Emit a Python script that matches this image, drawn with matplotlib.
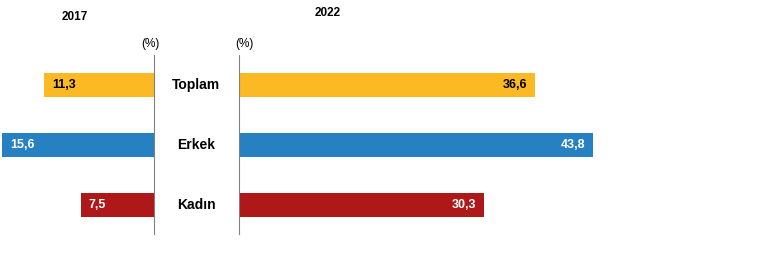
import matplotlib
matplotlib.use("Agg")
import matplotlib.pyplot as plt
from matplotlib.transforms import blended_transform_factory

# data
categories = ["Toplam", "Erkek", "Kadın"]
values_2017 = [11.3, 15.6, 7.5]
values_2022 = [36.6, 43.8, 30.3]
bar_colors = ["#FBBA24", "#2680C2", "#AE1818"]
label_colors = ["black", "white", "white"]

plt.rcParams['font.family'] = ['Liberation Sans', 'DejaVu Sans']

W, H = 762, 270
fig = plt.figure(figsize=(W / 100, H / 100), dpi=100)

# axes placed in pixel units (top-left origin)
def px_axes(x0, x1, y0, y1):
    return fig.add_axes([x0 / W, 1 - y1 / H, (x1 - x0) / W, (y1 - y0) / H])

ax_l = px_axes(0, 154, 55, 234)
ax_r = px_axes(239, 762, 55, 234)

pos = range(len(categories))
ax_l.barh(pos, values_2017, height=0.4, color=bar_colors)
ax_r.barh(pos, values_2022, height=0.4, color=bar_colors)

ax_l.set_xlim(154 / 9.74, 0)
ax_r.set_xlim(0, 523 / 8.09)
for ax in (ax_l, ax_r):
    ax.set_ylim(2.483, -0.5)
    ax.set_xticks([])
    ax.set_yticks([])
    for s in ax.spines.values():
        s.set_visible(False)
ax_l.spines['right'].set_visible(True)
ax_l.spines['right'].set_color('#808080')
ax_r.spines['left'].set_visible(True)
ax_r.spines['left'].set_color('#808080')

# value labels
for i, (v1, v2) in enumerate(zip(values_2017, values_2022)):
    ax_l.annotate(f"{v1:.1f}".replace(".", ","), (v1, i), xytext=(8, 0),
                  textcoords="offset pixels", ha="left", va="center",
                  fontsize=9, fontweight="bold", color=label_colors[i])
    ax_r.annotate(f"{v2:.1f}".replace(".", ","), (v2, i), xytext=(-8, 0),
                  textcoords="offset pixels", ha="right", va="center",
                  fontsize=9, fontweight="bold", color=label_colors[i])

# category labels between the two panels
tr = blended_transform_factory(fig.transFigure, ax_l.transData)
for i, c in enumerate(categories):
    fig.text(196 / W, i, c, transform=tr, ha="center", va="center",
             fontsize=10, fontweight="bold")

fig.text(75 / W, 1 - 17 / H, "2017", ha="center", va="center", fontsize=8.5, fontweight="bold")
fig.text(328 / W, 1 - 13 / H, "2022", ha="center", va="center", fontsize=8.5, fontweight="bold")
fig.text(150 / W, 1 - 44 / H, "(%)", ha="center", va="center", fontsize=8.5)
fig.text(244 / W, 1 - 44 / H, "(%)", ha="center", va="center", fontsize=8.5)

fig.savefig("out.png", dpi=100)
